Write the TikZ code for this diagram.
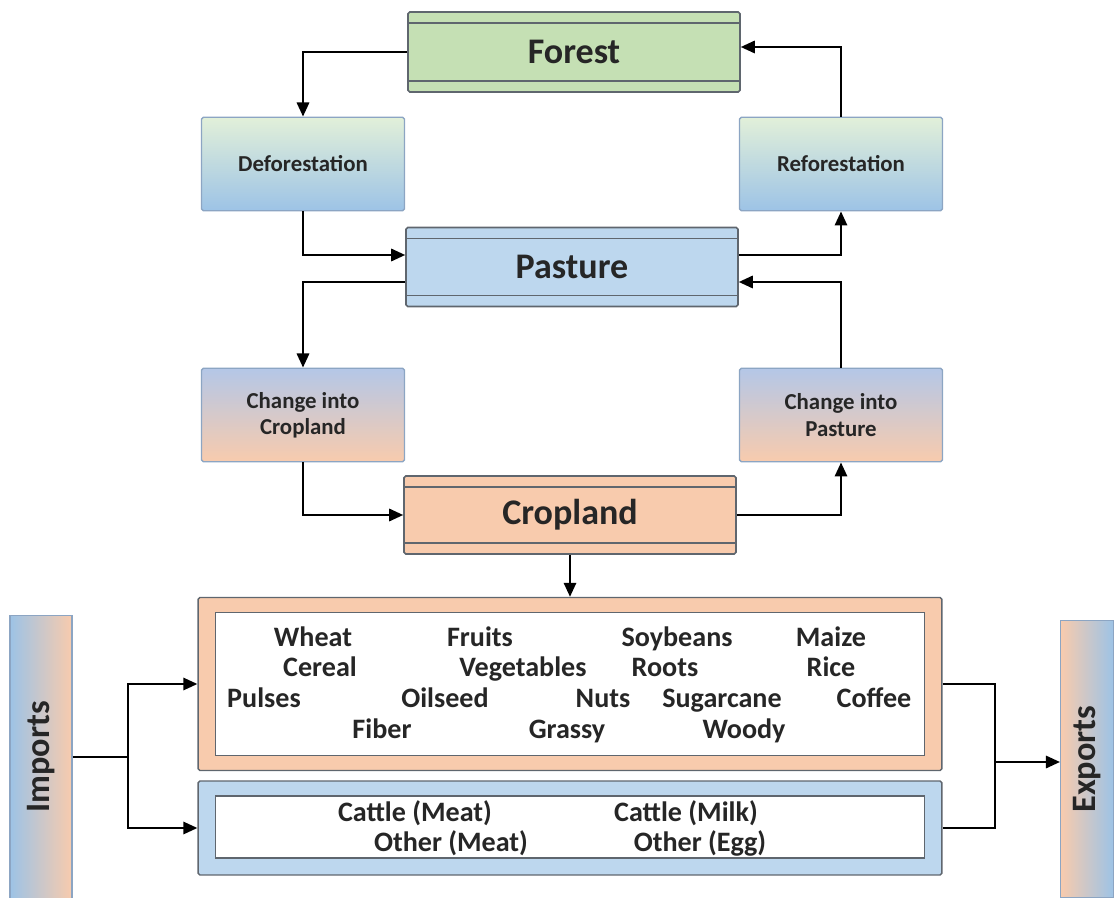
\documentclass[tikz,border=0pt]{standalone}
\usepackage{fontspec}
\setmainfont{Carlito}
\usetikzlibrary{arrows.meta}

\definecolor{forestgreen}{RGB}{197,224,180}
\definecolor{pastureblue}{RGB}{189,215,238}
\definecolor{croporange}{RGB}{248,203,173}
\definecolor{palegreen}{RGB}{226,240,217}
\definecolor{midblue}{RGB}{157,195,230}
\definecolor{paleblue}{RGB}{180,199,231}
\definecolor{edgegray}{RGB}{95,102,110}
\definecolor{edgeblue}{RGB}{140,165,195}
\definecolor{textgray}{RGB}{38,38,38}

\tikzset{
	flowpicture/.style = {
		x = 0.02cm,
		y = -0.02cm,
		text = textgray,
		arrow/.style = {
			draw,
			-{Triangle[length=8pt,width=7pt]},
			line width = 1.3pt,
		}
	},
	landbox/.style = {
		draw = edgegray,
		line width = 0.9pt,
		rounded corners = 1pt,
		minimum width = 6.64cm,
		minimum height = 1.58cm,
		font = \fontsize{20.5}{24}\selectfont\bfseries,
		path picture = {
			\draw[edgegray, line width = 0.9pt]
				([yshift=-0.22cm]path picture bounding box.north west) -- ([yshift=-0.22cm]path picture bounding box.north east)
				([yshift=0.22cm]path picture bounding box.south west) -- ([yshift=0.22cm]path picture bounding box.south east);
		}
	},
	changebox/.style = {
		draw = edgeblue,
		line width = 0.8pt,
		rounded corners = 1pt,
		minimum width = 4.06cm,
		minimum height = 1.87cm,
		align = center,
		font = \fontsize{13}{15}\selectfont\bfseries
	},
	forestchange/.style = {
		changebox,
		top color = palegreen,
		middle color = palegreen!70!midblue,
		bottom color = midblue
	},
	cropchange/.style = {
		changebox,
		top color = paleblue,
		bottom color = croporange
	},
	groupbox/.style = {
		draw = edgegray,
		line width = 0.8pt,
		rounded corners = 1pt,
		minimum width = 14.88cm
	},
	listbox/.style = {
		draw = edgegray,
		line width = 0.8pt,
		fill = white,
		minimum width = 14.18cm
	},
	tradebox/.style = {
		draw = edgeblue,
		line width = 0.6pt,
		font = \fontsize{19.5}{22}\selectfont\bfseries
	},
	item/.style = {
		font = \fontsize{16}{18}\selectfont\bfseries,
		inner sep = 0pt,
		text height = 1.55ex,
		text depth = 0.45ex,
		yshift = -0.08cm
	}
}

\begin{document}
\begin{tikzpicture}[flowpicture]
	\useasboundingbox (0,0) rectangle (1116,898);

	\node[landbox, fill = forestgreen, minimum height = 1.6cm] (forest) at (574,52) {Forest};
	\node[forestchange] (defor) at (303,164) {Deforestation};
	\node[forestchange] (refor) at (841,164) {Reforestation};

	\node[landbox, fill = pastureblue] (pasture) at (572,267) {Pasture};
	\node[cropchange] (cropchg) at (303,415) {Change into\\Cropland};
	\node[cropchange] (pastchg) at (841,415) {Change into\\Pasture};

	\node[landbox, fill = croporange, minimum height = 1.56cm] (cropland) at (570,515) {Cropland};

	\node[groupbox, fill = croporange, minimum height = 3.46cm] (crops) at (570,684) {};
	\node[listbox, minimum height = 2.86cm] (croplist) at (570,684) {};
	\node[groupbox, fill = pastureblue, minimum height = 1.88cm] (stock) at (570,828) {};
	\node[listbox, minimum height = 1.24cm] (stocklist) at (570,827) {};

	\node[tradebox, left color = midblue, middle color = pastureblue, right color = croporange,
		minimum width = 1.24cm, minimum height = 5.66cm] (imports) at (41,757) {\rotatebox{90}{Imports}};
	\node[tradebox, left color = croporange, middle color = pastureblue, right color = midblue,
		minimum width = 1.06cm, minimum height = 5.56cm] (exports) at (1087,759) {\rotatebox{90}{Exports}};

	% crop and livestock names
	\foreach \name/\x/\y [count = \i] in {
		Wheat/313/638, Fruits/480/638, Soybeans/677/638, Maize/831/638,
		Cereal/320/668, Vegetables/523/668, Roots/665/668, Rice/831/668,
		Pulses/264/699, Oilseed/445/699, Nuts/603/699, Sugarcane/722/699, Coffee/874/699,
		Fiber/382/730, Grassy/567/730, Woody/744/730}
		\node[item] (crop\i) at (\x,\y) {\name};
	\foreach \name/\x/\y [count = \i] in {
		Cattle (Meat)/415/813, Cattle (Milk)/686/813,
		Other (Meat)/451/843, Other (Egg)/700/843}
		\node[item] (stock\i) at (\x,\y) {\name};

	\coordinate (split) at (128,757);
	\coordinate (join) at (995,762);

	\begin{scope}[every path/.style = arrow]
		\path (forest.west) -| (defor.north);
		\path (defor.south) |- ([yshift=0.24cm]pasture.west);
		\path ([yshift=0.24cm]pasture.east) -| (refor.south);
		\path (refor.north) |- ([yshift=0.1cm]forest.east);

		\path ([yshift=-0.3cm]pasture.west) -| (cropchg.north);
		\path (cropchg.south) |- (cropland.west);
		\path (cropland.east) -| (pastchg.south);
		\path (pastchg.north) |- ([yshift=-0.3cm]pasture.east);

		\path (cropland.south) -- (crops.north);

		\path (split) |- (crops.west);
		\path (split) |- (stock.west);
		\path (join) -- (join -| exports.west);
	\end{scope}
	\draw[line width = 1.3pt] (imports.east |- split) -- (split);
	\draw[line width = 1.3pt] (crops.east) -| (join) |- (stock.east);
\end{tikzpicture}
\end{document}
